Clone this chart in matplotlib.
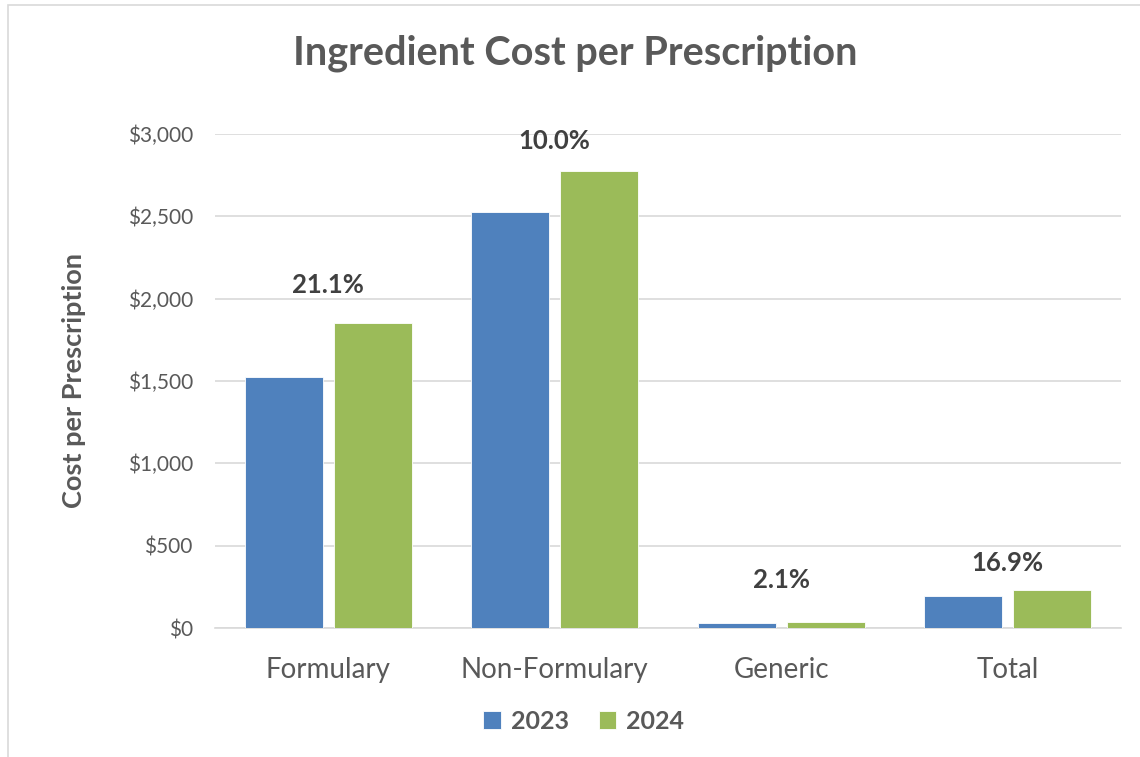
import numpy as np
import matplotlib.pyplot as plt
from matplotlib.patches import Rectangle
from matplotlib.ticker import FuncFormatter

categories = ['Formulary', 'Non-Formulary', 'Generic', 'Total']
cost_2023 = [1525, 2525, 33, 196]
cost_2024 = [1850, 2778, 34, 229]
pct_labels = ['21.1%', '10.0%', '2.1%', '16.9%']
label_y = [2085, 2960, 290, 395]

blue = '#4F81BD'
green = '#9BBB59'
txt = '#595959'

plt.rcParams['font.family'] = ['Lato', 'DejaVu Sans']

fig = plt.figure(figsize=(11.4, 7.57), dpi=100)
ax = fig.add_axes([0.1886, 0.1704, 0.7947, 0.6526])

x = np.arange(len(categories))
w = 0.345
off = 0.197
ax.bar(x - off, cost_2023, w, color=blue, edgecolor='white', linewidth=0.6, label='2023', zorder=3)
ax.bar(x + off, cost_2024, w, color=green, edgecolor='white', linewidth=0.6, label='2024', zorder=3)

for i, s in enumerate(pct_labels):
    ax.text(x[i], label_y[i], s, ha='center', va='center', fontsize=18.5,
            fontweight='bold', color='#404040')

ax.set_xlim(-0.5, 3.5)
ax.set_ylim(0, 3000)
ax.set_yticks(np.arange(0, 3001, 500))
ax.yaxis.set_major_formatter(FuncFormatter(lambda v, p: '${:,.0f}'.format(v)))
ax.set_xticks(x)
ax.set_xticklabels(categories, fontsize=20, color=txt)
ax.tick_params(axis='y', labelsize=15, colors=txt, length=0, pad=16)
ax.tick_params(axis='x', length=0, pad=21)
ax.grid(axis='y', color='#d9d9d9', linewidth=1.2, zorder=0)
for sp in ['top', 'right', 'left']:
    ax.spines[sp].set_visible(False)
ax.spines['bottom'].set_color('#d9d9d9')
ax.spines['bottom'].set_linewidth(1.2)

ax.set_ylabel('Cost per Prescription', fontsize=19.5, fontweight='bold', color=txt, labelpad=30)

fig.text(0.505, 0.93, 'Ingredient Cost per Prescription', ha='center', va='center',
         fontsize=28.5, fontweight='bold', color=txt)

leg = fig.legend(loc='center', bbox_to_anchor=(0.512, 0.047), ncol=2, frameon=False,
                 prop={'size': 18, 'weight': 'bold'}, handlelength=0.7, handleheight=0.7,
                 columnspacing=1.2, handletextpad=0.4)
for t in leg.get_texts():
    t.set_color(txt)

fig.patches.append(Rectangle((0.007, -0.01), 1.1, 1.003, transform=fig.transFigure,
                             fill=False, edgecolor='#d9d9d9', linewidth=1.2))

fig.savefig('out.png', dpi=100)
